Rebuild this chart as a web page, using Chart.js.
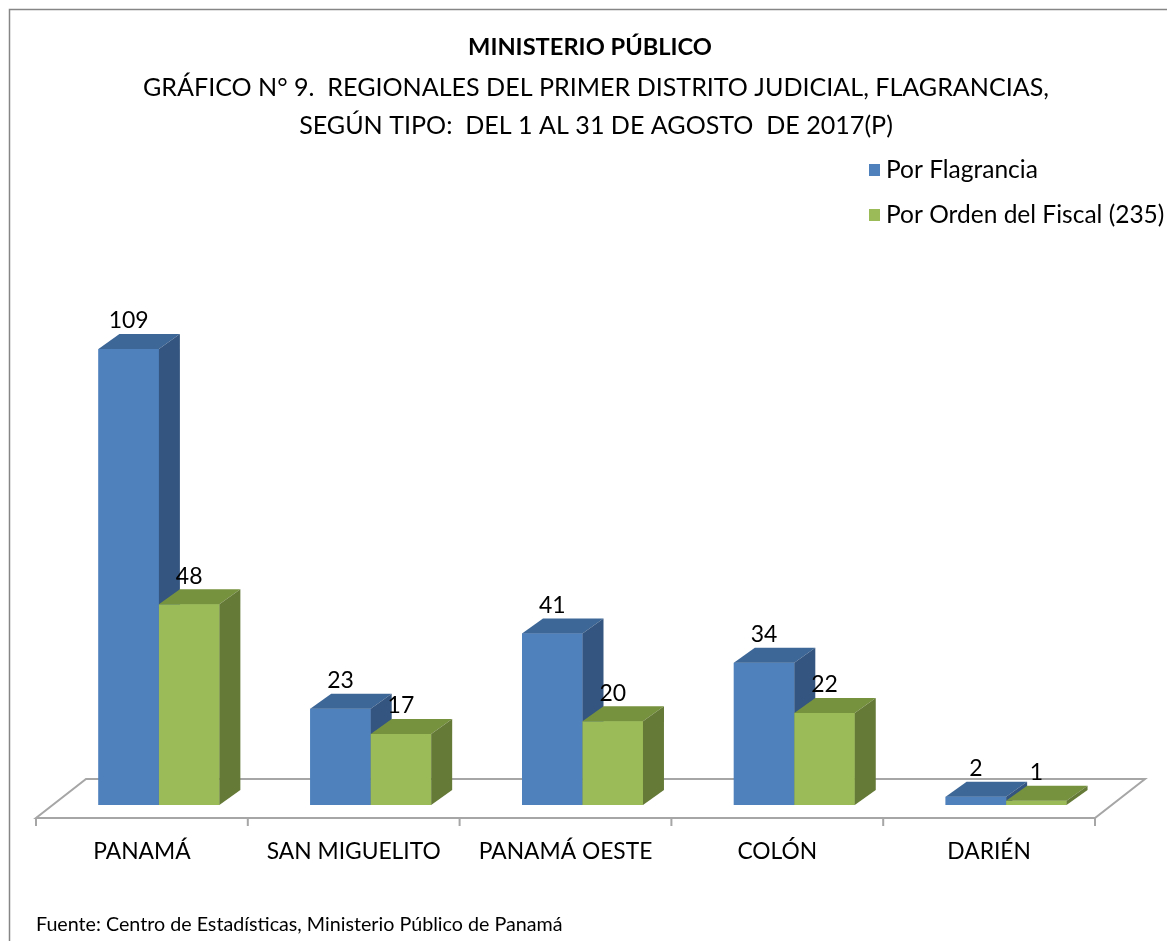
<!DOCTYPE html>
<html><head><meta charset="utf-8">
<script src="https://cdn.jsdelivr.net/npm/chart.js@4"></script>
<style>html,body{margin:0;padding:0;background:#fff;overflow:hidden}#wrap{position:relative;width:1167px;height:941px}</style>
</head><body><div id="wrap"><canvas id="c" width="1167" height="941"></canvas></div>
<script>
const categories = ['PANAMÁ', 'SAN MIGUELITO', 'PANAMÁ OESTE', 'COLÓN', 'DARIÉN'];
const seriesNames = ['Por Flagrancia', 'Por Orden del Fiscal (235)'];
const flagrancia = [109, 23, 41, 34, 2];
const ordenFiscal = [48, 17, 20, 22, 1];
const titleText = 'MINISTERIO PÚBLICO';
const subtitleLines = ['GRÁFICO N° 9.  REGIONALES DEL PRIMER DISTRITO JUDICIAL, FLAGRANCIAS,', 'SEGÚN TIPO:  DEL 1 AL 31 DE AGOSTO  DE 2017(P)'];
const sourceText = 'Fuente: Centro de Estadísticas, Ministerio Público de Panamá';

const FONT = 'Lato, "Open Sans", sans-serif';
const colors = [
  {front: '#4F81BD', top: '#3D6797', side: '#34557F'},
  {front: '#9BBB59', top: '#77923E', side: '#667A38'}
];
const DX = 21, DY = 15;

function fitSize(ctx, text, weight, targetW) {
  ctx.font = weight + ' 100px ' + FONT;
  return 100 * targetW / ctx.measureText(text).width;
}
function drawText(ctx, text, x, y, size, weight, align) {
  ctx.font = weight + ' ' + size.toFixed(2) + 'px ' + FONT;
  ctx.textAlign = align || 'center';
  ctx.textBaseline = 'middle';
  ctx.fillStyle = '#000';
  ctx.fillText(text, x, y);
}

const bar3d = {
  id: 'bar3d',
  beforeDatasetsDraw(chart) {
    const ctx = chart.ctx, a = chart.chartArea;
    ctx.save();
    ctx.strokeStyle = '#868686'; ctx.lineWidth = 1.5;
    ctx.strokeRect(9.5, 9.5, 1300, 1100);
    const fy = a.bottom + 13, by = a.bottom - 26, fl = a.left - 17, fr = a.right - 17;
    ctx.beginPath();
    ctx.moveTo(fl, fy); ctx.lineTo(fr, fy); ctx.lineTo(fr + 50, by); ctx.lineTo(fl + 50, by); ctx.closePath();
    ctx.fillStyle = '#fff'; ctx.fill();
    ctx.strokeStyle = '#A6A6A6'; ctx.lineWidth = 2; ctx.stroke();
    const w = (a.right - a.left) / categories.length;
    ctx.beginPath();
    for (let i = 0; i <= categories.length; i++) {
      ctx.moveTo(fl + i * w, fy); ctx.lineTo(fl + i * w, fy + 8);
    }
    ctx.stroke();
    ctx.restore();
  },
  afterDatasetsDraw(chart) {
    const ctx = chart.ctx;
    ctx.save();
    // redraw bars left to right so each bar's 3D faces layer correctly
    chart.data.datasets.forEach((ds, di) => {
      const c = colors[di];
      chart.getDatasetMeta(di).data.forEach(el => {
        el.draw(ctx, chart.chartArea);
        const p = el.getProps(['x', 'y', 'base', 'width'], true);
        const l = p.x - p.width / 2, r = p.x + p.width / 2;
        ctx.fillStyle = c.top;
        ctx.beginPath();
        ctx.moveTo(l, p.y); ctx.lineTo(r, p.y); ctx.lineTo(r + DX, p.y - DY); ctx.lineTo(l + DX, p.y - DY); ctx.closePath(); ctx.fill();
        ctx.fillStyle = c.side;
        ctx.beginPath();
        ctx.moveTo(r, p.y); ctx.lineTo(r + DX, p.y - DY); ctx.lineTo(r + DX, p.base - DY); ctx.lineTo(r, p.base); ctx.closePath(); ctx.fill();
      });
    });
    ctx.restore();
  },
  afterDraw(chart) {
    const ctx = chart.ctx, a = chart.chartArea, xs = chart.scales.x;
    ctx.save();
    const ds = fitSize(ctx, '109', 'normal', 40);
    chart.data.datasets.forEach((d, di) => {
      chart.getDatasetMeta(di).data.forEach((el, i) => {
        const p = el.getProps(['x', 'y'], true);
        drawText(ctx, String(d.data[i]), p.x, p.y - 28, ds, 'normal');
      });
    });
    const cs = fitSize(ctx, 'SAN MIGUELITO', 'normal', 174);
    categories.forEach((c, i) => drawText(ctx, c, xs.getPixelForValue(i) - 17, a.bottom + 47, cs, 'normal'));
    drawText(ctx, titleText, 590, 47, fitSize(ctx, titleText, 'bold', 244), 'bold');
    const ss = fitSize(ctx, subtitleLines[0], 'normal', 906);
    drawText(ctx, subtitleLines[0], 596, 88, ss, 'normal');
    drawText(ctx, subtitleLines[1], 596, 126, ss, 'normal');
    const ls = fitSize(ctx, seriesNames[0], 'normal', 152);
    seriesNames.forEach((n, i) => {
      ctx.fillStyle = colors[i].front;
      ctx.fillRect(869, 164 + i * 45, 11, 12);
      drawText(ctx, n, 886, 170 + i * 45, ls, 'normal', 'left');
    });
    drawText(ctx, sourceText, 36, 925, fitSize(ctx, sourceText, 'normal', 527), 'normal', 'left');
    ctx.restore();
  }
};

new Chart(document.getElementById('c'), {
  type: 'bar',
  data: {
    labels: categories,
    datasets: [
      {label: seriesNames[0], data: flagrancia, backgroundColor: colors[0].front, categoryPercentage: 0.571, barPercentage: 1},
      {label: seriesNames[1], data: ordenFiscal, backgroundColor: colors[1].front, categoryPercentage: 0.571, barPercentage: 1}
    ]
  },
  options: {
    responsive: false, animation: false, devicePixelRatio: 1,
    layout: {padding: {left: 53, right: 55, top: 303, bottom: 136}},
    plugins: {legend: {display: false}, title: {display: false}, tooltip: {enabled: false}},
    scales: {
      x: {display: false},
      y: {display: false, min: 0, max: 120}
    }
  },
  plugins: [bar3d]
});
</script></body></html>
